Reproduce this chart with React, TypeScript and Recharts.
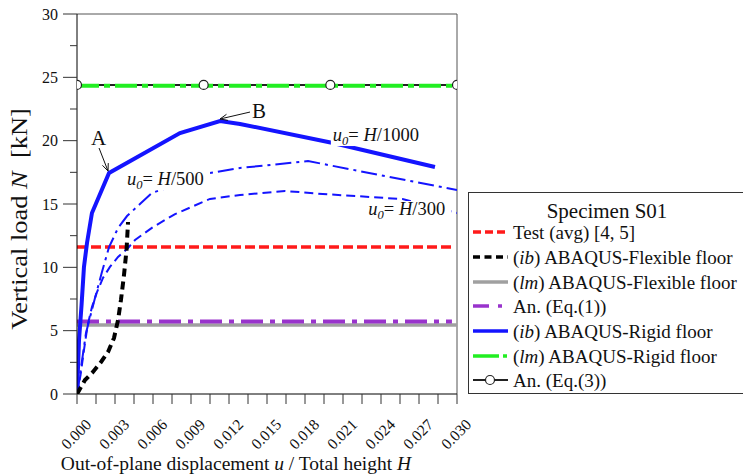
import React from 'react';
import { LineChart, Line, XAxis, YAxis, ReferenceLine, ReferenceDot } from 'recharts';

const FONT = "'Liberation Serif', 'Times New Roman', Times, serif";

// ---- ticks ----
const xTickValues = [0, 0.0015, 0.003, 0.0045, 0.006, 0.0075, 0.009, 0.0105, 0.012, 0.0135, 0.015, 0.0165, 0.018, 0.0195, 0.021, 0.0225, 0.024, 0.0255, 0.027, 0.0285, 0.03];
const yTickValues = [0, 2.5, 5, 7.5, 10, 12.5, 15, 17.5, 20, 22.5, 25, 27.5, 30];

// ---- series ----
const testAvg = [{ x: 0, y: 11.6 }, { x: 0.0296, y: 11.6 }];
const ibFlexible = [
  { x: 0, y: 0 }, { x: 0.00063, y: 1.1 }, { x: 0.00126, y: 1.74 }, { x: 0.0019, y: 2.53 },
  { x: 0.00245, y: 3.32 }, { x: 0.00292, y: 4.42 }, { x: 0.00324, y: 5.84 }, { x: 0.00347, y: 7.42 },
  { x: 0.00371, y: 9.39 }, { x: 0.00391, y: 11.37 }, { x: 0.00403, y: 13.58 },
];
const lmFlexible = [{ x: 0, y: 5.45 }, { x: 0.0301, y: 5.45 }];
const anEq1 = [{ x: 0, y: 5.72 }, { x: 0.0296, y: 5.72 }];
const ibRigid1000 = [
  { x: 0, y: 0 }, { x: 0.00016, y: 4.26 }, { x: 0.00036, y: 7.03 }, { x: 0.00055, y: 10.03 },
  { x: 0.00079, y: 11.92 }, { x: 0.00118, y: 14.29 }, { x: 0.00253, y: 17.45 }, { x: 0.00813, y: 20.6 },
  { x: 0.01129, y: 21.55 }, { x: 0.01287, y: 21.32 }, { x: 0.02021, y: 19.82 }, { x: 0.02826, y: 17.92 },
];
const ibRigid500 = [
  { x: 0, y: 0 }, { x: 0.00012, y: 0.71 }, { x: 0.00071, y: 4.82 }, { x: 0.00142, y: 7.58 },
  { x: 0.00197, y: 9.63 }, { x: 0.00253, y: 11.6 }, { x: 0.00324, y: 13.1 }, { x: 0.00395, y: 14.05 },
  { x: 0.00497, y: 15.0 }, { x: 0.00592, y: 15.87 }, { x: 0.0105, y: 17.45 }, { x: 0.01287, y: 17.84 },
  { x: 0.01824, y: 18.39 }, { x: 0.03, y: 16.1 },
];
const ibRigid300 = [
  { x: 0, y: 0 }, { x: 0.00028, y: 1.5 }, { x: 0.00055, y: 3.47 }, { x: 0.00083, y: 5.37 },
  { x: 0.00118, y: 6.87 }, { x: 0.00158, y: 8.05 }, { x: 0.00205, y: 9.16 }, { x: 0.0026, y: 10.03 },
  { x: 0.00324, y: 10.82 }, { x: 0.00403, y: 11.53 }, { x: 0.00458, y: 12.16 }, { x: 0.006, y: 13.18 },
  { x: 0.00774, y: 14.2 }, { x: 0.0105, y: 15.4 }, { x: 0.01287, y: 15.71 }, { x: 0.01642, y: 16.03 },
  { x: 0.0194, y: 15.79 }, { x: 0.0257, y: 15.39 }, { x: 0.03, y: 14.29 },
];
const lmRigid = [{ x: 0, y: 24.33 }, { x: 0.03, y: 24.33 }];
const anEq3 = [{ x: 0, y: 24.4 }, { x: 0.01, y: 24.4 }, { x: 0.02, y: 24.4 }, { x: 0.03, y: 24.4 }];

// ---- annotations ----
const pointLabels = [
  { text: 'A', x: 0.0017, y: 19.66 },
  { text: 'B', x: 0.01437, y: 21.79 },
];
const arrowSegments = [
  [{ x: 0.00174, y: 19.42 }, { x: 0.00245, y: 17.6 }],
  [{ x: 0.01366, y: 22.26 }, { x: 0.01129, y: 21.71 }],
];
const curveLabels = [
  { den: '1000', x: 0.0202, y: 19.97, w: 93 },
  { den: '500', x: 0.00395, y: 16.5, w: 85 },
  { den: '300', x: 0.023, y: 14.13, w: 85 },
];

const legendItems = [
  { key: 'test', pre: '', it: '', post: 'Test (avg) [4, 5]' },
  { key: 'ibf', pre: '(', it: 'ib', post: ') ABAQUS-Flexible floor' },
  { key: 'lmf', pre: '(', it: 'lm', post: ') ABAQUS-Flexible floor' },
  { key: 'eq1', pre: '', it: '', post: 'An. (Eq.(1))' },
  { key: 'ibr', pre: '(', it: 'ib', post: ') ABAQUS-Rigid floor' },
  { key: 'lmr', pre: '(', it: 'lm', post: ') ABAQUS-Rigid floor' },
  { key: 'eq3', pre: '', it: '', post: 'An. (Eq.(3))' },
];

const XTick = (props: any) => {
  const { x, y, payload } = props;
  const major = Math.round(payload.value * 10000) % 30 === 0;
  return (
    <g>
      <line x1={x} y1={y} x2={x} y2={y + 10} stroke="#333" strokeWidth={1} />
      {major && (
        <text
          transform={`translate(${x - 1},${y + 40}) rotate(-45)`}
          textAnchor="middle"
          dominantBaseline="central"
          fontSize={15.5}
          fontFamily={FONT}
          fill="#111"
        >
          {payload.value.toFixed(3)}
        </text>
      )}
    </g>
  );
};

const YTick = (props: any) => {
  const { x, y, payload } = props;
  const major = Math.round(payload.value * 10) % 50 === 0;
  return (
    <g>
      <line x1={x - (major ? 14 : 7)} y1={y} x2={x} y2={y} stroke="#333" strokeWidth={1} />
      {major && (
        <text x={x - 19} y={y + 5.5} textAnchor="end" fontSize={16} fontFamily={FONT} fill="#111">
          {payload.value}
        </text>
      )}
    </g>
  );
};

const XTitle = () => (
  <text x={236} y={470} textAnchor="middle" fontSize={19.5} fontFamily={FONT} fill="#111">
    {'Out-of-plane displacement '}
    <tspan fontStyle="italic">u</tspan>
    {' / Total height '}
    <tspan fontStyle="italic">H</tspan>
  </text>
);

const YTitle = () => (
  <text transform="translate(27,219) rotate(-90) scale(1.15,1)" textAnchor="middle" fontSize={23} fontFamily={FONT} fill="#111">
    {'Vertical load '}
    <tspan fontStyle="italic">N</tspan>
    {'\u00a0 [kN]'}
  </text>
);

const ArrowShape = (props: any) => {
  const { x1, y1, x2, y2 } = props;
  const ang = Math.atan2(y2 - y1, x2 - x1);
  const L = 8;
  const a1 = ang + Math.PI - 0.4;
  const a2 = ang + Math.PI + 0.4;
  return (
    <g>
      <line x1={x1} y1={y1} x2={x2} y2={y2} stroke="#111" strokeWidth={1} />
      <line x1={x2} y1={y2} x2={x2 + L * Math.cos(a1)} y2={y2 + L * Math.sin(a1)} stroke="#111" strokeWidth={1} />
      <line x1={x2} y1={y2} x2={x2 + L * Math.cos(a2)} y2={y2 + L * Math.sin(a2)} stroke="#111" strokeWidth={1} />
    </g>
  );
};

const makePointLabel = (text: string) => (props: any) => {
  const { cx, cy } = props;
  return (
    <text x={cx} y={cy} textAnchor="middle" fontSize={21} fontFamily={FONT} fill="#111">
      {text}
    </text>
  );
};

const makeCurveLabel = (den: string, w: number) => (props: any) => {
  const { cx, cy } = props;
  return (
    <g>
      <rect x={cx - 2} y={cy - 14} width={w} height={19} fill="#fff" />
      <text x={cx} y={cy} fontSize={18.5} fontFamily={FONT} fill="#111">
        <tspan fontStyle="italic">u</tspan>
        <tspan fontStyle="italic" fontSize={12.5} dy={4}>0</tspan>
        <tspan dy={-4}>= </tspan>
        <tspan fontStyle="italic">H</tspan>
        <tspan>{'/' + den}</tspan>
      </text>
    </g>
  );
};

const LegendSample = ({ k, y }: { k: string; y: number }) => {
  const x0 = 473;
  const x1 = 508;
  switch (k) {
    case 'test':
      return <line x1={x0} y1={y} x2={x1} y2={y} stroke="#ff1a1a" strokeWidth={3.5} strokeDasharray="8 4" />;
    case 'ibf':
      return <line x1={x0} y1={y} x2={x1} y2={y} stroke="#000" strokeWidth={3.5} strokeDasharray="7 4.5" />;
    case 'lmf':
      return <line x1={x0} y1={y} x2={x1} y2={y} stroke="#a0a0a0" strokeWidth={3.5} />;
    case 'eq1':
      return (
        <g>
          <line x1={x0} y1={y} x2={489} y2={y} stroke="#9933cc" strokeWidth={3.5} />
          <line x1={498} y1={y} x2={502} y2={y} stroke="#9933cc" strokeWidth={3.5} />
        </g>
      );
    case 'ibr':
      return <line x1={x0} y1={y} x2={x1} y2={y} stroke="#1414ff" strokeWidth={3.5} />;
    case 'lmr':
      return (
        <g>
          <line x1={x0} y1={y} x2={499} y2={y} stroke="#22ee22" strokeWidth={3.5} />
          <line x1={503} y1={y} x2={507} y2={y} stroke="#22ee22" strokeWidth={3.5} />
        </g>
      );
    default:
      return (
        <g>
          <line x1={x0} y1={y} x2={x1} y2={y} stroke="#222" strokeWidth={2} />
          <circle cx={490} cy={y} r={4.5} fill="#fff" stroke="#222" strokeWidth={1.2} />
        </g>
      );
  }
};

const legendRows = [232, 257, 282, 306, 331, 356, 380];

const LegendBox = () => (
  <svg width={743} height={476} style={{ position: 'absolute', left: 0, top: 0, pointerEvents: 'none' }}>
    <rect x={468.5} y={192.5} width={300} height={201} fill="#fff" stroke="#333" strokeWidth={1} />
    <text x={607} y={218} textAnchor="middle" fontSize={21} fontFamily={FONT} fill="#111">
      Specimen S01
    </text>
    {legendItems.map((it, i) => (
      <g key={it.key}>
        <LegendSample k={it.key} y={legendRows[i]} />
        <text x={513} y={legendRows[i] + 7} fontSize={19} fontFamily={FONT} fill="#111">
          {it.pre}
          {it.it && <tspan fontStyle="italic">{it.it}</tspan>}
          {it.post}
        </text>
      </g>
    ))}
  </svg>
);

export default function App() {
  return (
    <div style={{ position: 'absolute', left: 0, top: 0, width: 743, height: 476, overflow: 'hidden', background: '#fff' }}>
      <LineChart width={743} height={476} margin={{ top: 14, right: 286, bottom: 22, left: 17 }}>
        <XAxis
          type="number"
          dataKey="x"
          domain={[0, 0.03]}
          ticks={xTickValues}
          interval={0}
          height={60}
          tickSize={0}
          tickMargin={0}
          tickLine={false}
          tick={<XTick />}
          axisLine={{ stroke: '#000', strokeWidth: 1 }}
          allowDataOverflow
          label={<XTitle />}
        />
        <YAxis
          type="number"
          dataKey="y"
          domain={[0, 30]}
          ticks={yTickValues}
          interval={0}
          width={60}
          tickSize={0}
          tickMargin={0}
          tickLine={false}
          tick={<YTick />}
          axisLine={{ stroke: '#000', strokeWidth: 1 }}
          allowDataOverflow
          label={<YTitle />}
        />
        <ReferenceLine y={30} stroke="#555" strokeWidth={1} />
        <ReferenceLine x={0.03} stroke="#555" strokeWidth={1} />

        <Line data={lmFlexible} dataKey="y" type="linear" stroke="#a0a0a0" strokeWidth={3.5} dot={false} isAnimationActive={false} />
        <Line data={anEq1} dataKey="y" type="linear" stroke="#9933cc" strokeWidth={4} strokeDasharray="22 7 5 7" dot={false} isAnimationActive={false} />
        <Line data={testAvg} dataKey="y" type="linear" stroke="#ff1a1a" strokeWidth={3.5} strokeDasharray="10 4" dot={false} isAnimationActive={false} />
        <Line data={ibRigid300} dataKey="y" type="linear" stroke="#1414ff" strokeWidth={2} strokeDasharray="9 5" dot={false} isAnimationActive={false} />
        <Line data={ibRigid500} dataKey="y" type="linear" stroke="#1414ff" strokeWidth={2} strokeDasharray="16 5 3 5" dot={false} isAnimationActive={false} />
        <Line data={ibRigid1000} dataKey="y" type="linear" stroke="#1414ff" strokeWidth={4} dot={false} isAnimationActive={false} />
        <Line data={ibFlexible} dataKey="y" type="linear" stroke="#000" strokeWidth={4} strokeDasharray="8 5" dot={false} isAnimationActive={false} />
        <Line data={anEq3} dataKey="y" type="linear" stroke="#222" strokeWidth={2} dot={false} isAnimationActive={false} />
        <Line data={lmRigid} dataKey="y" type="linear" stroke="#22ee22" strokeWidth={4} strokeDasharray="22 5 6 5" dot={false} isAnimationActive={false} />
        <Line data={anEq3} dataKey="y" type="linear" stroke="none" dot={{ r: 4.5, fill: '#fff', stroke: '#222', strokeWidth: 1.2 }} isAnimationActive={false} />

        {arrowSegments.map((seg, i) => (
          <ReferenceLine key={'arr' + i} segment={seg} shape={ArrowShape} ifOverflow="visible" />
        ))}
        {pointLabels.map((p) => (
          <ReferenceDot key={p.text} x={p.x} y={p.y} r={0} ifOverflow="visible" shape={makePointLabel(p.text)} />
        ))}
        {curveLabels.map((c) => (
          <ReferenceDot key={c.den} x={c.x} y={c.y} r={0} ifOverflow="visible" shape={makeCurveLabel(c.den, c.w)} />
        ))}
      </LineChart>
      <LegendBox />
    </div>
  );
}
